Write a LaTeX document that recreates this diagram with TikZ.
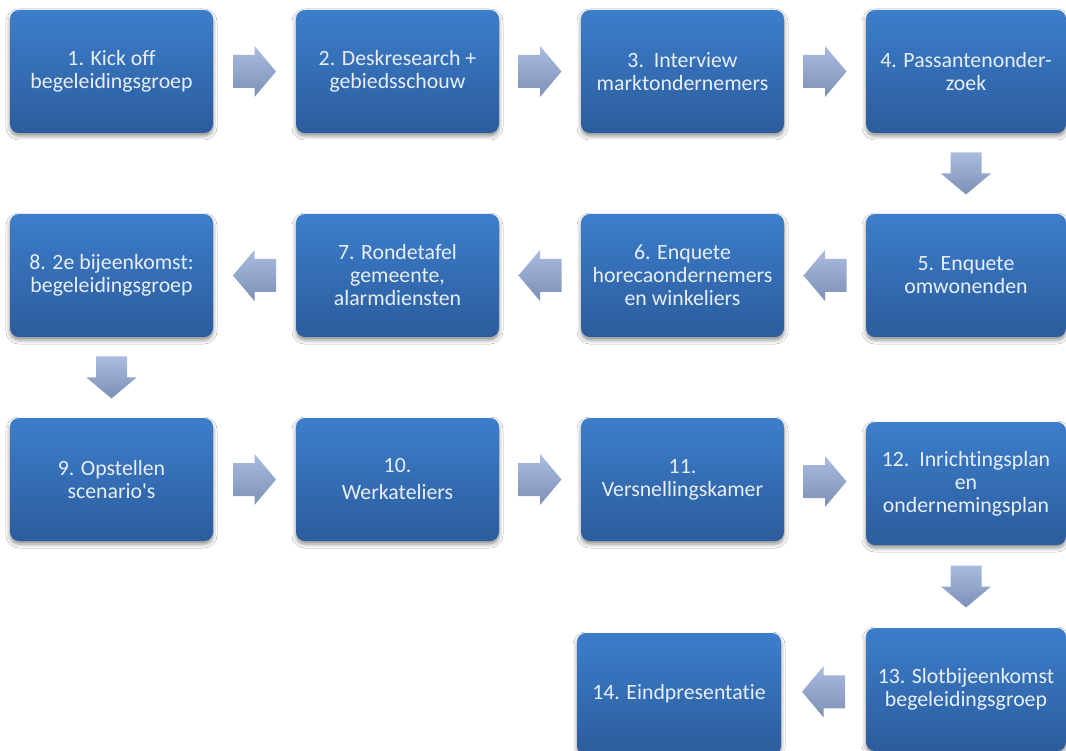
\documentclass[tikz,border=0pt]{standalone}
\usepackage{fontspec}
\setmainfont{Carlito}[Ligatures={TeX,NoCommon}]
\usetikzlibrary{calc,shadows.blur}

\definecolor{boxtop}{RGB}{60,126,203}
\definecolor{boxbot}{RGB}{44,92,156}
\definecolor{boxtext}{RGB}{232,238,247}
\definecolor{arrtop}{RGB}{170,188,224}
\definecolor{arrbot}{RGB}{124,143,182}

\tikzset{
  stage/.style={rectangle, rounded corners=9pt, top color=boxtop, bottom color=boxbot,
    text=boxtext, align=center, inner sep=0pt,
    font=\fontsize{21.8}{23}\selectfont,
    minimum width=203pt, minimum height=123pt,
    blur shadow={shadow xshift=0pt, shadow yshift=-3pt, shadow blur radius=4pt, shadow opacity=45}},
  narrow/.style={minimum width=200pt},
  arrowfill/.style={top color=arrtop, bottom color=arrbot},
  pics/rarrow/.style={code={
    \shade[arrowfill] (-21.5,16.5) -- (0,16.5) -- (0,25.5) -- (21.5,0) -- (0,-25.5) -- (0,-16.5) -- (-21.5,-16.5) -- cycle;}},
  pics/larrow/.style={code={
    \shade[arrowfill] (21.5,16.5) -- (0,16.5) -- (0,25.5) -- (-21.5,0) -- (0,-25.5) -- (0,-16.5) -- (21.5,-16.5) -- cycle;}},
  pics/darrow/.style={code={
    \shade[arrowfill] (-15.5,21) -- (15.5,21) -- (15.5,0) -- (25,0) -- (0,-21) -- (-25,0) -- (-15.5,0) -- cycle;}}
}

\begin{document}
\begin{tikzpicture}[x=1pt, y=1pt]
  \useasboundingbox[fill=white] (0,0) rectangle (1066,-751);

  % row 1
  \node[stage] (s1) at (111.5,-71.5) {1. Kick off\\begeleidingsgroep};
  \node[stage] (s2) at (397.5,-71.5) {2. Deskresearch +\\gebiedsschouw};
  \node[stage] (s3) at (682.5,-71.5) {3.\ \ Interview\\marktondernemers};
  \node[stage, narrow] (s4) at (966,-71.5) {4. Passantenonder-\\zoek};

  % row 2
  \node[stage, narrow] (s5) at (966,-275.5) {5. Enquete\\omwonenden};
  \node[stage] (s6) at (682.5,-275.5) {6. Enquete\\horecaondernemers\\en winkeliers};
  \node[stage] (s7) at (397.5,-275.5) {7. Rondetafel\\gemeente,\\alarmdiensten};
  \node[stage] (s8) at (111.5,-275.5) {8. 2e bijeenkomst:\\begeleidingsgroep};

  % row 3
  \node[stage] (s9) at (111.5,-479.5) {9. Opstellen\\scenario\textquotesingle s};
  \node[stage] (s10) at (397.5,-479.5) {10.\\[4pt]Werkateliers};
  \node[stage] (s11) at (682.5,-479.5) {11.\\Versnellingskamer};
  \node[stage, narrow] (s12) at (966,-483.5) {12.\ \ Inrichtingsplan\\en\\ondernemingsplan};

  % row 4
  \node[stage, narrow] (s13) at (966,-689.5) {13. Slotbijeenkomst\\begeleidingsgroep};
  \node[stage, minimum width=204pt, minimum height=122pt] (s14) at (679,-694) {14. Eindpresentatie};

  % block arrows between the stages
  \pic at ($(s1.east)!0.5!(s2.west)$) {rarrow};
  \pic at ($(s2.east)!0.5!(s3.west)$) {rarrow};
  \pic at ($(s3.east)!0.5!(s4.west)$) {rarrow};
  \pic at ($(s4.south)!0.5!(s5.north)$) {darrow};
  \pic at ($(s5.west)!0.5!(s6.east)$) {larrow};
  \pic at ($(s6.west)!0.5!(s7.east)$) {larrow};
  \pic at ($(s7.west)!0.5!(s8.east)$) {larrow};
  \pic at ($(s8.south)!0.5!(s9.north)$) {darrow};
  \pic at ($(s9.east)!0.5!(s10.west)$) {rarrow};
  \pic at ($(s10.east)!0.5!(s11.west)$) {rarrow};
  \pic at ($(s11.east)!0.5!(s12.west)$) {rarrow};
  \pic at ($(s12.south)!0.5!(s13.north)$) {darrow};
  \pic at ($(s13.west)!0.5!(s14.east)$) {larrow};
\end{tikzpicture}
\end{document}
